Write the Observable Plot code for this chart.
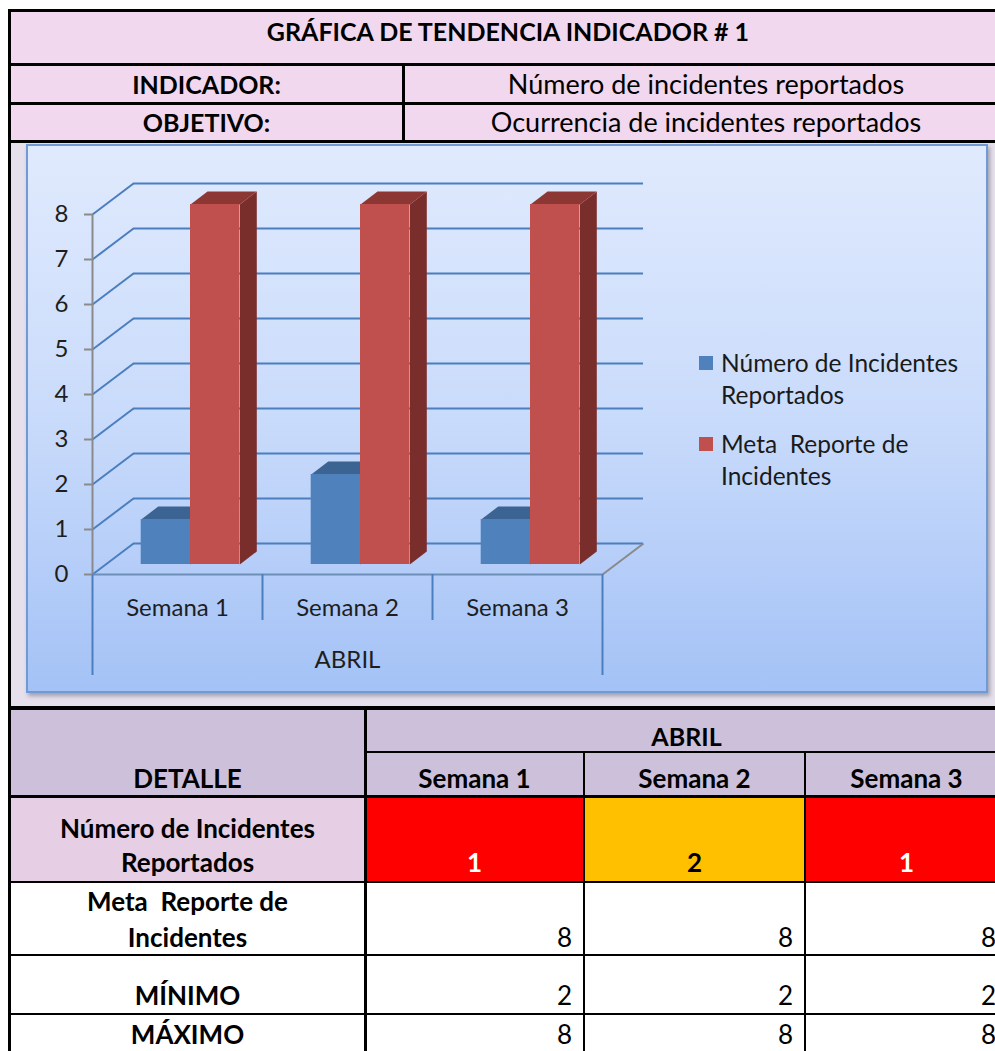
<!DOCTYPE html>
<html><head><meta charset="utf-8">
<script src="https://cdn.jsdelivr.net/npm/d3@7"></script>
<script src="https://cdn.jsdelivr.net/npm/@observablehq/plot@0.6"></script>
<style>
html,body{margin:0;padding:0;background:#fff;}
#page{position:relative;width:995px;height:1051px;overflow:hidden;font-family:Lato,"Open Sans",sans-serif;color:#000;}
.bx{position:absolute;box-sizing:border-box;}
.t{position:absolute;white-space:pre;overflow:visible;}
</style></head><body><div id="page"></div>
<script>
// ---------- data ----------
const title = "GRÁFICA DE TENDENCIA INDICADOR # 1";
const infoLabels = ["INDICADOR:", "OBJETIVO:"];
const infoValues = ["Número de incidentes reportados", "Ocurrencia de incidentes reportados"];
const month = "ABRIL";
const weeks = ["Semana 1", "Semana 2", "Semana 3"];
const seriesNames = ["Número de Incidentes\nReportados", "Meta  Reporte de\nIncidentes"];
const incidentes = [1, 2, 1];
const meta = [8, 8, 8];
const minimo = [2, 2, 2];
const maximo = [8, 8, 8];
const yTicks = [0, 1, 2, 3, 4, 5, 6, 7, 8];
const rowLabels = ["Número de Incidentes\nReportados", "Meta  Reporte de\nIncidentes", "MÍNIMO", "MÁXIMO"];
const detailHeader = "DETALLE";
const incFill = ["#ff0000", "#ffc000", "#ff0000"];
const incText = ["#ffffff", "#000000", "#ffffff"];

// ---------- helpers ----------
const page = document.getElementById("page");
function box(x, y, w, h, bg, extra = "") {
  const d = document.createElement("div");
  d.className = "bx";
  d.style.cssText = `left:${x}px;top:${y}px;width:${w}px;height:${h}px;background:${bg};${extra}`;
  page.appendChild(d);
  return d;
}
// cy = vertical centre of the whole text block
function txt(x, w, cy, s, o = {}) {
  const size = o.size || 22, lh = o.lh || 30, n = s.split("\n").length;
  const d = document.createElement("div");
  d.className = "t";
  d.textContent = s;
  d.style.cssText = `left:${x}px;width:${w}px;top:${cy - n * lh / 2}px;line-height:${lh}px;font-size:${size}px;` +
    `font-weight:${o.weight || 400};text-align:${o.align || "center"};color:${o.color || "#000"};` +
    `${o.pad ? "box-sizing:border-box;padding-right:" + o.pad + "px;" : ""}`;
  page.appendChild(d);
  return d;
}
const K = "#000";
const BOLD = 26, NORM = 26;

// ---------- top table ----------
const pink = "#f2d8ee";
box(8, 9, 1000, 132, pink);
box(8, 141, 1000, 567, "#e5e0ec");
box(8, 9, 1000, 3, K);
box(8, 63, 1000, 3, K);
box(8, 102, 1000, 3, K);
box(8, 140, 1000, 3, K);
box(402, 64, 3, 78, K);
txt(8, 1000, 31, title, {weight: 700, size: 25});
infoLabels.forEach((l, i) => {
  const cy = [84, 122][i];
  txt(10, 393, cy, l, {weight: 700, size: 25});
  txt(404, 604, cy, infoValues[i], {size: 27});
});

// ---------- chart frame ----------
box(26, 144, 962, 549,
  "linear-gradient(to bottom,#e0eafd 0%,#c9dbfb 50%,#a4c2f6 100%)",
  "border:2px solid #6f9ad6;box-shadow:2px 3px 4px rgba(80,80,100,0.45);");

const W = 962, H = 549, mL = 66, mR = 386, mT = 70, mB = 119;
const pxX = (W - mL - mR) / weeks.length; // px per x-unit
const pxY = (H - mT - mB) / 8;            // px per y-unit
const ux = px => px / pxX, uy = px => px / pxY;
const floorD = {dx: ux(41), dy: uy(31)};
const baseD = {dx: ux(13), dy: uy(10)};
const depthD = {dx: ux(17), dy: uy(13)};
const barW = 0.29, gap0 = 0.21;
const seriesVals = [incidentes, meta];
const frontCol = ["#4f81bd", "#c0504d"];
const topCol = ["#3c6493", "#8d3735"];
const sideCol = ["#395e8c", "#7a2e2c"];

const bars = [];
seriesVals.forEach((vals, s) => vals.forEach((v, i) => {
  const x1 = i + gap0 + s * barW + baseD.dx;
  bars.push({s, i, v, x1, x2: x1 + barW, y1: baseD.dy, y2: v + baseD.dy});
}));
function topFace(b) {
  return [[b.x1, b.y2], [b.x2, b.y2], [b.x2 + depthD.dx, b.y2 + depthD.dy], [b.x1 + depthD.dx, b.y2 + depthD.dy]]
    .map(([x, y]) => ({x, y, id: b.s + "-" + b.i}));
}
function sideFace(b) {
  return [[b.x2, b.y1], [b.x2, b.y2], [b.x2 + depthD.dx, b.y2 + depthD.dy], [b.x2 + depthD.dx, b.y1 + depthD.dy]]
    .map(([x, y]) => ({x, y, id: b.s + "-" + b.i}));
}
const grid = "#4a7ebf";
const barMarks = [];
[0, 1].forEach(s => {
  const bs = bars.filter(b => b.s === s);
  barMarks.push(
    Plot.line(bs.flatMap(sideFace), {x: "x", y: "y", z: "id", fill: sideCol[s], stroke: "none", curve: "linear-closed"}),
    Plot.line(bs.flatMap(topFace), {x: "x", y: "y", z: "id", fill: topCol[s], stroke: "none", curve: "linear-closed"}),
    Plot.rect(bs, {x1: "x1", x2: "x2", y1: "y1", y2: "y2", fill: frontCol[s]})
  );
});

const chart = Plot.plot({
  width: W, height: H,
  marginLeft: mL, marginRight: mR, marginTop: mT, marginBottom: mB,
  x: {domain: [0, weeks.length], axis: null},
  y: {domain: [0, 8]},
  style: {background: "transparent", overflow: "visible", fontFamily: "Lato, 'Open Sans', sans-serif"},
  marks: [
    Plot.ruleY(yTicks, {y: d => d + floorD.dy, x1: () => floorD.dx, x2: () => weeks.length + floorD.dx, stroke: grid, strokeWidth: 2}),
    Plot.link(yTicks, {x1: () => 0, y1: d => d, x2: () => floorD.dx, y2: d => d + floorD.dy, stroke: grid, strokeWidth: 2}),
    Plot.link([weeks.length], {x1: d => d, y1: () => 0, x2: d => d + floorD.dx, y2: () => floorD.dy, stroke: "#8a8a8a", strokeWidth: 2}),
    Plot.ruleY([0], {x1: () => 0, x2: () => weeks.length, stroke: "#6d8fb8", strokeWidth: 2}),
    Plot.ruleX([1, 2], {y1: () => 0, y2: () => -uy(46), stroke: grid, strokeWidth: 2}),
    Plot.ruleX([0, weeks.length], {y1: () => 0, y2: () => -uy(101), stroke: grid, strokeWidth: 2}),
    ...barMarks,
    Plot.ruleX([0], {y1: () => 0, y2: () => 8, stroke: "#8a8a8a", strokeWidth: 2}),
    Plot.axisY({ticks: yTicks, tickSize: 8, tickPadding: 16, fontSize: 24, label: null, stroke: "#8a8a8a", strokeWidth: 2, color: "#1e1e1e", tickFormat: d => d}),
    Plot.text(weeks, {x: (d, i) => i + 0.5, y: () => 0, dy: 34, text: d => d, fontSize: 24, fill: "#1e1e1e"}),
    Plot.text([month], {x: () => weeks.length / 2, y: () => 0, dy: 86, text: d => d, fontSize: 24, fill: "#1e1e1e"})
  ]
});
const holder = document.createElement("div");
holder.style.cssText = "position:absolute;left:26px;top:144px;";
holder.appendChild(chart);
page.appendChild(holder);

// legend
seriesNames.forEach((n, s) => {
  const cy = [363, 444][s];
  box(699, cy - 7, 14, 14, frontCol[s]);
  txt(721, 270, cy + 16, n, {size: 24.5, lh: 32, align: "left", color: "#1a1a1a"});
});

// ---------- bottom table ----------
const cols = [8, 365, 584, 805, 1008];
const hdr = "#ccc0da";
box(8, 708, 1000, 88, hdr);
box(8, 796, 357, 86, "#e6cfe4");
incidentes.forEach((v, i) => box(cols[i + 1], 796, cols[i + 2] - cols[i + 1], 86, incFill[i]));
box(8, 882, 1000, 169, "#ffffff");
box(8, 9, 3, 1042, K);
box(8, 706, 1000, 4, K);
box(364, 708, 3, 343, K);
box(365, 751, 640, 2, K);
box(583, 752, 2, 299, K);
box(804, 752, 2, 299, K);
box(8, 795, 1000, 3, K);
box(8, 881, 1000, 2, K);
box(8, 954, 1000, 2, K);
box(8, 1013, 1000, 2, K);

txt(365, 643, 736, month, {weight: 700, size: 25});
txt(10, 355, 778, detailHeader, {weight: 700, size: BOLD});
weeks.forEach((w, i) => txt(cols[i + 1], cols[i + 2] - cols[i + 1], 778, w, {weight: 700, size: BOLD}));
txt(10, 355, 845, rowLabels[0], {weight: 700, size: BOLD, lh: 34});
txt(10, 355, 919, rowLabels[1], {weight: 700, size: BOLD, lh: 36});
txt(10, 355, 995, rowLabels[2], {weight: 700, size: BOLD});
txt(10, 355, 1034, rowLabels[3], {weight: 700, size: BOLD, lh: 28});
incidentes.forEach((v, i) => txt(cols[i + 1], cols[i + 2] - cols[i + 1], 862, String(v), {weight: 700, size: BOLD, color: incText[i]}));
[[meta, 937, 30], [minimo, 995, 30], [maximo, 1034, 28]].forEach(([arr, cy, lh]) =>
  arr.forEach((v, i) => txt(cols[i + 1], cols[i + 2] - cols[i + 1], cy, String(v), {size: NORM, lh, align: "right", pad: 12})));
</script></body></html>
